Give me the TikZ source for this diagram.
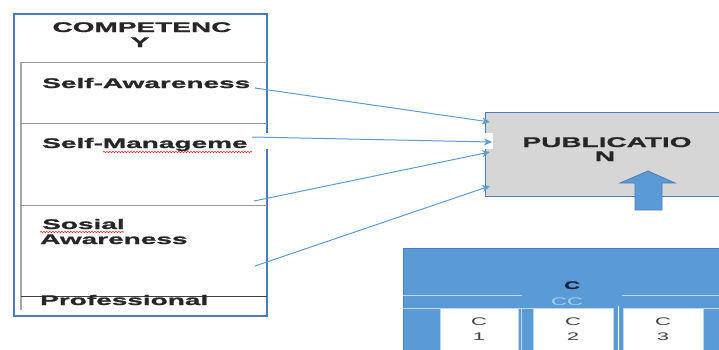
\documentclass[tikz,border=0pt]{standalone}
\usepackage{fontspec}
\setmainfont{Liberation Sans}
\newfontfamily\widesans[FakeStretch=2, BoldFeatures={FakeBold=1.2}]{Liberation Sans}
\usetikzlibrary{arrows.meta,decorations.pathmorphing}
\definecolor{frameblue}{HTML}{4A7EBB}
\definecolor{linkblue}{HTML}{5B9BD5}
\definecolor{paleblue}{HTML}{BDD7EE}
\definecolor{ccblue}{HTML}{A9CDEE}
\definecolor{navy}{HTML}{14243F}
\definecolor{boxgray}{HTML}{D6D6D6}
\definecolor{txtgray}{HTML}{404040}
\begin{document}
\begin{tikzpicture}[x=1pt,y=-1pt,
  lbl/.style={inner sep=0pt, font=\widesans\bfseries\fontsize{14}{14}\selectfont, text=black!85},
  small/.style={inner sep=0pt, font=\widesans\fontsize{11}{11}\selectfont, text=txtgray},
  conn/.style={linkblue, line width=1pt, -{Stealth[length=8pt,width=7pt]}},
  rowline/.style={gray!80, line width=0.9pt},
  spell/.style={red!85!black, line width=0.6pt, decorate, decoration={snake, amplitude=0.5pt, segment length=3pt}},
  sepline/.style={paleblue, line width=1pt},
  cbox/.style={fill=white, draw=paleblue, line width=0.6pt}]
\useasboundingbox (0,0) rectangle (719,349);
\clip (0,0) rectangle (719,349);

% competency table
\draw[frameblue, line width=1.6pt] (14,14) rectangle (267,316);
\draw[gray!70, line width=1.6pt] (21,62) -- (21,310);
\draw[rowline] (21,62) -- (267,62);
\draw[rowline] (21,123) -- (267,123);
\draw[rowline] (21,205) -- (267,205);
\draw[black!75, line width=0.9pt] (21,296) -- (267,296);

% publication box
\node[draw=frameblue, fill=boxgray, line width=1.4pt, minimum width=240pt, minimum height=84pt, anchor=north west, inner sep=0pt] (pub) at (485,112) {};

% white strip behind the second row label
\fill[white] (30,133) rectangle (493,149);

% table texts
\node[lbl, anchor=base] (head1) at (142,32) {COMPETENC};
\node[lbl, anchor=base] (head2) at (140,47) {Y};
\node[lbl, anchor=base west] (sa) at (42,88) {Self-Awareness};
\node[lbl, anchor=base west] (sm) at (42,148) {Self-Manageme};
\node[lbl, anchor=base west] (so1) at (42,229) {Sosial};
\node[lbl, anchor=base west] (so2) at (40,244) {Awareness};
\node[lbl, anchor=base west] (pr) at (40,305) {Professional};
\draw[spell] (103,152) -- (252,152);
\draw[spell] (40,232) -- (124,232);

% publication label
\node[lbl, anchor=base] (pubt1) at (607,147) {PUBLICATIO};
\node[lbl, anchor=base] (pubt2) at (605,161) {N};

% connectors
\coordinate (s1) at (255,88);
\coordinate (s2) at (252,137);
\coordinate (s3) at (254,201);
\coordinate (s4) at (255,266);
\coordinate (t1) at (490,122);
\coordinate (t2) at (492,142);
\coordinate (t3) at (490,152);
\coordinate (t4) at (490,186);
\draw[conn] (s1) -- (t1);
\draw[conn] (s2) -- (t2);
\draw[conn] (s3) -- (t3);
\draw[conn] (s4) -- (t4);

% block arrow
\draw[fill=linkblue, draw=frameblue, line width=0.8pt]
  (635,210) -- (635,183) -- (620,183) -- (648,171) -- (675,183) -- (662,183) -- (662,210) -- cycle;

% bottom chart
\fill[linkblue] (403,248) rectangle (725,355);
\draw[frameblue, line width=0.8pt] (403,355) -- (403,248) -- (725,248);
\draw[sepline] (403,295) -- (522,295);
\draw[sepline] (622,295) -- (725,295);
\draw[sepline] (403,308) -- (440,308);
\draw[sepline] (518,308) -- (533,308);
\draw[sepline] (703,308) -- (725,308);
\draw[sepline] (521,308) -- (521,355);
\draw[white, line width=1pt] (618,306) -- (618,355);
\node[inner sep=0pt, font=\widesans\bfseries\fontsize{11}{11}\selectfont, text=navy, anchor=base] (ch) at (572,289) {C};
\node[inner sep=0pt, font=\widesans\fontsize{11}{11}\selectfont, text=ccblue, anchor=base] (cc) at (567,305) {CC};
\node[cbox, anchor=north west, minimum width=78pt, minimum height=50pt] (c1) at (440,308) {};
\node[cbox, anchor=north west, minimum width=80pt, minimum height=50pt] (c2) at (533,308) {};
\node[cbox, anchor=north west, minimum width=80pt, minimum height=50pt] (c3) at (623,308) {};
\node[small, anchor=base] (c1a) at (479,325) {C};
\node[small, anchor=base] (c1b) at (479,340) {1};
\node[small, anchor=base] (c2a) at (573,325) {C};
\node[small, anchor=base] (c2b) at (573,340) {2};
\node[small, anchor=base] (c3a) at (663,325) {C};
\node[small, anchor=base] (c3b) at (663,340) {3};
\end{tikzpicture}
\end{document}
